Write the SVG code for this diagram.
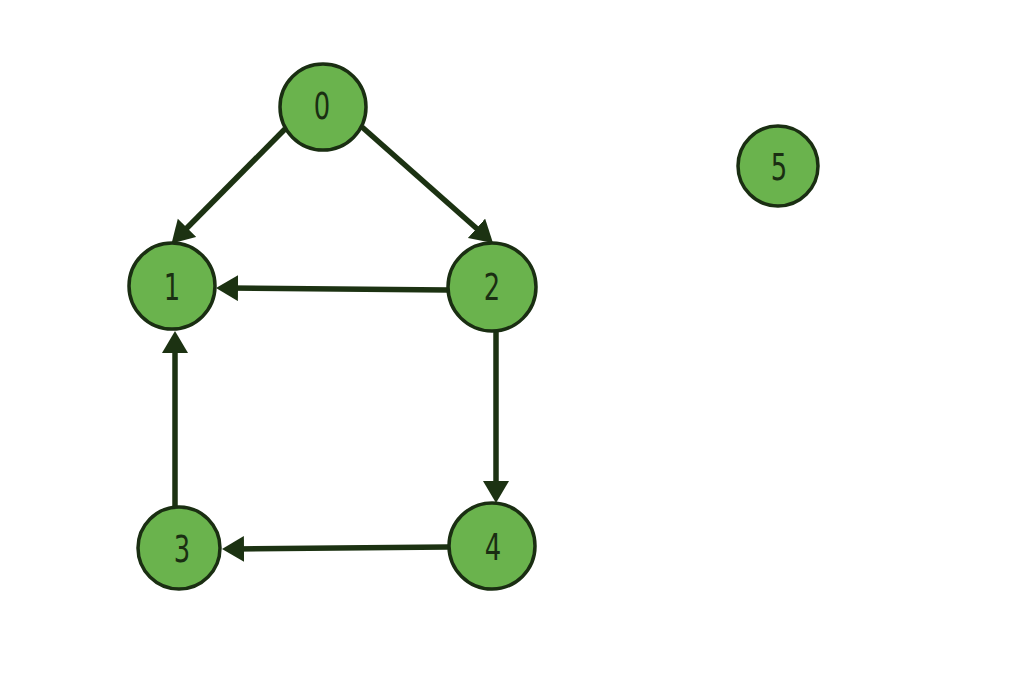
<svg xmlns="http://www.w3.org/2000/svg" width="1024" height="686" viewBox="0 0 1024 686">
<defs>
<style>
.node circle{fill:#6ab34d;stroke:#1a2e12;stroke-width:3.5}
.node text{font-family:"DejaVu Sans","Liberation Sans",sans-serif;font-size:38px;fill:#1a2e12;text-anchor:middle;dominant-baseline:central}
.edge{stroke:#1c3212;stroke-width:5.5;fill:none;marker-end:url(#arr)}
</style>
<marker id="arr" markerUnits="userSpaceOnUse" markerWidth="24" markerHeight="28" viewBox="0 0 24 28" refX="10" refY="13" orient="auto">
<path d="M0,0 L22,13 L0,26 Z" fill="#1c3212"/>
</marker>
</defs>
<rect width="1024" height="686" fill="#ffffff"/>
<g id="connectors">
<line class="edge" x1="285" y1="129" x2="180" y2="235"/>
<line class="edge" x1="362" y1="127" x2="484" y2="235"/>
<line class="edge" x1="448" y1="290" x2="228" y2="288"/>
<line class="edge" x1="496" y1="331" x2="496" y2="491"/>
<line class="edge" x1="175" y1="507" x2="175" y2="343"/>
<line class="edge" x1="448" y1="547" x2="234" y2="549"/>
</g>
<g id="node0" class="node"><circle cx="323" cy="107" r="43"/><text transform="translate(322,106) scale(0.68,1)">0</text></g>
<g id="node1" class="node"><circle cx="172" cy="286" r="43"/><text transform="translate(172,287) scale(0.68,1)">1</text></g>
<g id="node2" class="node"><circle cx="492" cy="287" r="44"/><text transform="translate(492,287) scale(0.68,1)">2</text></g>
<g id="node3" class="node"><circle cx="179" cy="548" r="41"/><text transform="translate(182,549) scale(0.68,1)">3</text></g>
<g id="node4" class="node"><circle cx="492" cy="546" r="43"/><text transform="translate(493,547) scale(0.68,1)">4</text></g>
<g id="node5" class="node"><circle cx="778" cy="166" r="40"/><text transform="translate(779,167) scale(0.68,1)">5</text></g>
</svg>
